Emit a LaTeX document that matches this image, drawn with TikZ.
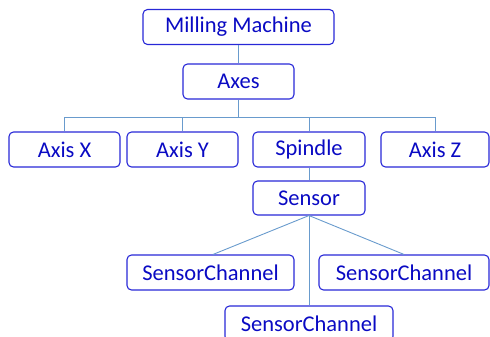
\documentclass[tikz,border=0pt]{standalone}
\usepackage{fontspec}
\setmainfont{Carlito}
\definecolor{boxline}{RGB}{40,40,215}
\definecolor{boxtext}{RGB}{10,10,195}
\definecolor{linkline}{RGB}{105,155,205}
\tikzset{
  x=1pt, y=-1pt,
  item/.style={draw=boxline, line width=1.1pt, rounded corners=4.5pt,
    text=boxtext, font=\fontsize{22.5}{24}\selectfont, inner sep=0pt,
    minimum height=35pt},
  link/.style={draw=linkline, line width=0.9pt}
}
\begin{document}
\begin{tikzpicture}
\useasboundingbox (0,0) rectangle (490,337);
% hierarchy nodes
\node[item, minimum width=191pt] (mill) at (238.5,27) {Milling Machine};
\node[item, minimum width=111pt] (axes) at (238.5,81.5) {Axes};
\node[item, minimum width=111pt] (ax) at (64.5,149.5) {Axis X};
\node[item, minimum width=111pt] (ay) at (182.5,149.5) {Axis Y};
\node[item, minimum width=112pt] (sp) at (309,149.5) {Spindle};
\node[item, minimum width=108pt] (az) at (435,149.5) {Axis Z};
\node[item, minimum width=112pt, minimum height=34pt] (sens) at (309,198) {Sensor};
\node[item, minimum width=167pt] (scl) at (210.5,272.5) {SensorChannel};
\node[item, minimum width=170pt] (scr) at (404,272.5) {SensorChannel};
\node[item, minimum width=168pt] (scb) at (309,323.5) {SensorChannel};
% connectors
\coordinate (bus) at (0,117);
\draw[link] (mill) -- (axes);
\draw[link] (axes.south) -- (axes.south |- bus);
\draw[link] (ax.north) |- (az.north |- bus) -- (az.north);
\draw[link] (ay.north) -- (ay.north |- bus);
\draw[link] (sp.north) -- (sp.north |- bus);
\draw[link] (sp) -- (sens);
\draw[link] (sens.south) -- ([xshift=2.5pt]scl.north);
\draw[link] (sens.south) -- (scr.north);
\draw[link] (sens.south) -- (scb.north);
\end{tikzpicture}
\end{document}
